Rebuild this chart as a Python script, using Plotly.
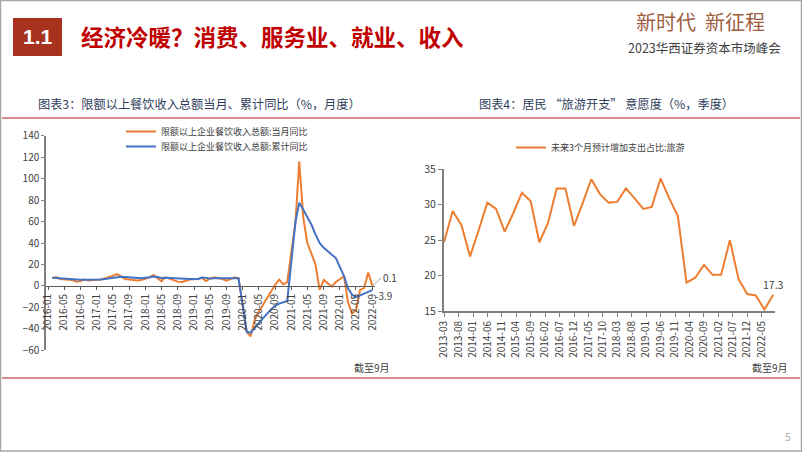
import plotly.graph_objects as go

W, H = 802, 452

# ---------------- Left chart data (monthly, Jan merged into Feb) ----------------
left_years = [2016, 2017, 2018, 2019, 2020, 2021, 2022]
monthly_yoy = {
    2016: [7.5, 8.3, 6.5, 6.0, 6.0, 5.5, 4.0, 4.5, 6.0, 5.0, 5.5],
    2017: [6.0, 7.0, 8.0, 9.5, 11.0, 9.0, 6.5, 6.0, 5.5, 5.0, 5.5],
    2018: [8.0, 10.3, 7.5, 4.5, 8.0, 6.5, 5.5, 4.0, 3.7, 5.0, 6.0],
    2019: [6.5, 7.5, 4.5, 7.0, 8.0, 7.5, 6.5, 5.0, 6.5, 8.0, 7.0],
    2020: [-43.0, -47.0, -31.7, -24.0, -17.7, -11.5, -4.7, 1.0, 6.0, 1.5, 3.5],
    2021: [60.0, 115.8, 63.0, 40.0, 29.0, 20.0, -3.7, 5.6, 2.5, -0.6, 3.7],
    2022: [9.0, -14.6, -25.5, -22.6, -3.7, -2.0, 12.5, 0.1],
}
cumulative_yoy = {
    2016: [7.5, 7.2, 6.8, 6.5, 6.3, 6.2, 6.0, 5.8, 5.8, 5.7, 5.8],
    2017: [6.0, 6.5, 7.0, 7.5, 8.2, 8.5, 8.2, 7.8, 7.5, 7.3, 7.2],
    2018: [8.0, 8.8, 8.3, 7.4, 7.5, 7.3, 7.0, 6.6, 6.4, 6.5, 6.5],
    2019: [6.5, 7.8, 7.5, 7.0, 7.2, 7.2, 7.0, 6.9, 6.9, 7.0, 7.1],
    2020: [-43.0, -43.5, -39.0, -34.5, -30.0, -26.0, -22.0, -18.5, -16.5, -15.2, -14.0],
    2021: [60.0, 77.6, 71.0, 64.0, 57.0, 48.0, 40.0, 35.5, 32.0, 29.0, 26.0],
    2022: [9.0, -2.0, -8.0, -10.5, -9.0, -7.0, -5.5, -3.9],
}
left_dates, left_monthly, left_cum = [], [], []
for yr in left_years:
    for i, (m, c) in enumerate(zip(monthly_yoy[yr], cumulative_yoy[yr])):
        left_dates.append(f"{yr}-{i + 2:02d}-01")
        left_monthly.append(m)
        left_cum.append(c)

left_name_month = "限额以上企业餐饮收入总额:当月同比"
left_name_cum = "限额以上企业餐饮收入总额:累计同比"

# ---------------- Right chart data (quarterly) ----------------
right_quarters = ["03", "06", "09", "12"]
travel_share = [
    24.7, 29.1, 27.1, 22.7,
    26.4, 30.3, 29.4, 26.2,
    28.8, 31.7, 30.5, 24.7,
    27.4, 32.3, 32.3, 27.0,
    30.2, 33.6, 31.5, 30.3,
    30.4, 32.3, 30.9, 29.4,
    29.7, 33.7, 30.9, 28.4,
    19.0, 19.7, 21.5, 20.1,
    20.1, 25.0, 19.5, 17.4,
    17.2, 15.2, 17.3,
]
right_dates = []
for k in range(len(travel_share)):
    yr = 2013 + k // 4
    right_dates.append(f"{yr}-{right_quarters[k % 4]}-01")
right_name = "未来3个月预计增加支出占比:旅游"

ORANGE = "#ED7D31"
BLUE = "#4472C4"
AXIS = "#808080"
TXT = "#404040"
FONT = "Noto Sans CJK SC"


def px(x):
    return x / W


def py(y):
    return 1 - y / H


fig = go.Figure()
fig.add_trace(go.Scatter(x=left_dates, y=left_monthly, name=left_name_month, mode="lines",
                         line=dict(color=ORANGE, width=2), xaxis="x", yaxis="y", legend="legend"))
fig.add_trace(go.Scatter(x=left_dates, y=left_cum, name=left_name_cum, mode="lines",
                         line=dict(color=BLUE, width=2), xaxis="x", yaxis="y", legend="legend3"))
fig.add_trace(go.Scatter(x=right_dates, y=travel_share, name=right_name, mode="lines",
                         line=dict(color=ORANGE, width=2), xaxis="x2", yaxis="y2", legend="legend2"))

left_ydom = [py(350.3), py(135.7)]
zero_pos = left_ydom[0] + (0 - (-60)) / 200 * (left_ydom[1] - left_ydom[0])

leg_common = dict(xanchor="left", yanchor="top", bgcolor="rgba(0,0,0,0)",
                  font=dict(size=9, color=TXT), itemwidth=30)

fig.update_layout(
    template="none",
    width=W, height=H, margin=dict(l=0, r=0, t=0, b=0, autoexpand=False),
    paper_bgcolor="white", plot_bgcolor="rgba(0,0,0,0)",
    font=dict(family=FONT, size=10, color=TXT),
    xaxis=dict(domain=[px(46), px(375)], range=["2015-12-16", "2022-09-21"], type="date",
               anchor="free", position=zero_pos, showline=True, linecolor="#595959", linewidth=1,
               ticks="outside", ticklen=3, tickcolor="#595959", tickformat="%Y-%m",
               dtick="M4", tick0="2016-01-01", tickangle=-90, showgrid=False, zeroline=False,
               automargin=False, tickfont=dict(size=10, color=TXT)),
    yaxis=dict(domain=left_ydom, range=[-60, 140], dtick=20, showline=True, linecolor=AXIS,
               linewidth=1.5, ticks="outside", ticklen=3, tickcolor=AXIS, showgrid=False,
               zeroline=False, anchor="x", automargin=False, tickfont=dict(size=10, color=TXT)),
    xaxis2=dict(domain=[px(444), px(775)], range=["2013-03-01", "2022-09-20"], type="date",
                anchor="y2", showline=True, linecolor=AXIS, linewidth=2, ticks="outside",
                ticklen=4, tickcolor=AXIS, tickformat="%Y-%m", dtick="M5", tick0="2013-03-01",
                tickangle=-90, showgrid=False, zeroline=False, automargin=False,
                tickfont=dict(size=10, color=TXT)),
    yaxis2=dict(domain=[py(311), py(169.3)], range=[15, 35], dtick=5, showline=True,
                linecolor=AXIS, linewidth=2, ticks="outside", ticklen=4, tickcolor=AXIS,
                showgrid=False, zeroline=False, anchor="x2", automargin=False,
                tickfont=dict(size=10.5, color=TXT)),
    legend=dict(x=px(121), y=py(117), **leg_common),
    legend3=dict(x=px(121), y=py(132), **leg_common),
    legend2=dict(x=px(511), y=py(133), **leg_common),
    showlegend=True,
)

shapes = [
    # slide border
    dict(type="rect", xref="paper", yref="paper", x0=px(0.5), x1=px(801.5), y0=py(451), y1=py(0.5),
         line=dict(color="#A6A6A6", width=1.5)),
    # header box
    dict(type="rect", xref="paper", yref="paper", x0=px(13), x1=px(62), y0=py(56), y1=py(18),
         fillcolor="#A8321E", line=dict(width=0)),
    # separator lines
    dict(type="line", xref="paper", yref="paper", x0=px(2), x1=px(800), y0=py(118), y1=py(118),
         line=dict(color="#D98C8C", width=2)),
    dict(type="line", xref="paper", yref="paper", x0=px(2), x1=px(800), y0=py(378), y1=py(378),
         line=dict(color="#D98C8C", width=2)),
]
fig.update_layout(shapes=shapes)


def pa(text, x, y, size, color=TXT, family=FONT, xanchor="center"):
    return dict(text=text, x=px(x), y=py(y), xref="paper", yref="paper", showarrow=False,
                xanchor=xanchor, yanchor="middle", font=dict(size=size, color=color, family=family))


ann = [
    pa("<b>1.1</b>", 37.5, 37, 21, "white", "Liberation Sans"),
    pa("<b>经济冷暖？消费、服务业、就业、收入</b>", 79, 36, 22.5, "#C00000", FONT, "left"),
    pa("新时代  新征程", 700, 22, 20, "#A0603F"),
    pa("2023华西证券资本市场峰会", 704, 47, 12.5, "#404040"),
    pa("图表3：限额以上餐饮收入总额当月、累计同比（%，月度）", 199, 104, 12.2, "#2F3E5C"),
    pa("图表4：居民 “旅游开支” 意愿度（%，季度）", 606, 104, 12.2, "#2F3E5C"),
    pa("截至9月", 372, 367, 10),
    pa("截至9月", 770, 367, 10),
    pa("5", 788, 436, 10, "#A6A6A6"),
    # end labels
    dict(text=f"{left_monthly[-1]:.1f}", x=left_dates[-1], y=left_monthly[-1], xref="x", yref="y",
         showarrow=True, arrowhead=0, arrowwidth=1, arrowcolor="#A6A6A6", ax=9, ay=-8,
         xanchor="left", font=dict(size=10, color=TXT)),
    dict(text=f"{left_cum[-1]:.1f}", x=left_dates[-1], y=left_cum[-1], xref="x", yref="y",
         showarrow=False, xanchor="left", xshift=1, yshift=-5, font=dict(size=10, color=TXT)),
    dict(text=f"{travel_share[-1]:.1f}", x=right_dates[-1], y=travel_share[-1], xref="x2", yref="y2",
         showarrow=False, yshift=10, font=dict(size=10.5, color=TXT)),
]
fig.update_layout(annotations=ann)

fig.write_html("out.html", config={"displayModeBar": False},
               post_script="document.body.style.margin='0px';document.body.style.overflow='hidden';")
